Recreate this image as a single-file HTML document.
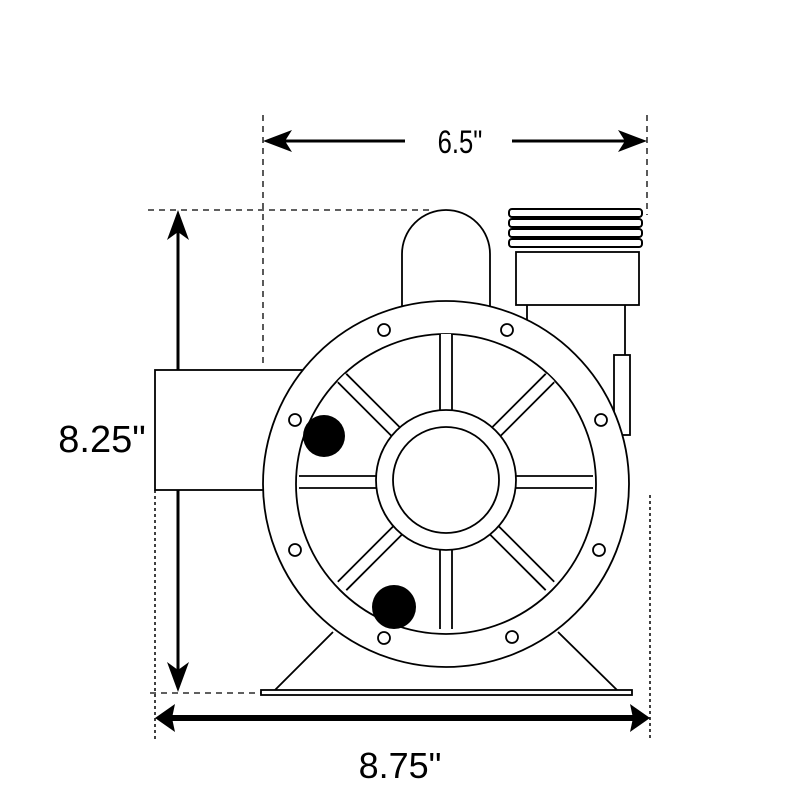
<!DOCTYPE html>
<html><head><style>body{margin:0;background:#fff}</style></head><body>
<svg width="800" height="800" viewBox="0 0 800 800" xmlns="http://www.w3.org/2000/svg">
<rect width="800" height="800" fill="#fff"/>
<g stroke="#000" stroke-width="1.3" stroke-dasharray="6,5" fill="none">
<line x1="263" y1="115" x2="263" y2="365"/>
<line x1="647" y1="115" x2="647" y2="215"/>
<line x1="148" y1="210" x2="430" y2="210"/>
<line x1="150" y1="693" x2="262" y2="693"/>
</g>
<g stroke="#000" stroke-width="1.5" stroke-dasharray="3,3" fill="none">
<line x1="155" y1="490" x2="155" y2="740"/>
<line x1="650" y1="495" x2="650" y2="740"/>
</g>
<g stroke="#000" stroke-width="3" fill="#000">
<line x1="270" y1="141" x2="405" y2="141"/>
<line x1="512" y1="141" x2="640" y2="141"/>
<path d="M263,141 L292,130 L285,141 L292,152z" stroke="none"/>
<path d="M647,141 L618,130 L625,141 L618,152z" stroke="none"/>
<line x1="178" y1="220" x2="178" y2="682"/>
<path d="M178,210 L167,240 L178,232 L189,240z" stroke="none"/>
<path d="M178,692 L167,662 L178,670 L189,662z" stroke="none"/>
<line x1="165" y1="718" x2="640" y2="718" stroke-width="6"/>
<path d="M155,718 L175,704 L172,718 L175,732z" stroke="none"/>
<path d="M650,718 L630,704 L633,718 L630,732z" stroke="none"/>
</g>
<text x="460" y="153" font-family="Liberation Sans Narrow, Liberation Sans, sans-serif" font-size="32" text-anchor="middle" transform="translate(460 0) scale(0.8 1) translate(-460 0)">6.5"</text>
<text x="102" y="452" font-family="Liberation Sans, sans-serif" font-size="38" text-anchor="middle">8.25"</text>
<text x="400" y="778" font-family="Liberation Sans, sans-serif" font-size="36" text-anchor="middle">8.75"</text>
<g stroke="#000" stroke-width="1.8" fill="#fff">
<rect x="155" y="370" width="150" height="120"/>
<path d="M402,310 L402,254 A44,44 0 0 1 490,254 L490,310"/>
<line x1="527" y1="305" x2="527" y2="330"/>
<line x1="625" y1="305" x2="625" y2="400"/>
<rect x="614" y="355" width="16" height="80"/>
<rect x="516" y="252" width="123" height="53"/>
<path d="M275,690 L333,632 M617,690 L558,632" fill="none"/>
<rect x="261" y="690" width="371" height="5"/>
<circle cx="446" cy="484" r="183"/>
<circle cx="446" cy="484" r="150"/>
</g>
<g stroke="#000" stroke-width="2" fill="#fff">
<rect x="509" y="209" width="133" height="8" rx="3"/>
<rect x="509" y="219" width="133" height="8" rx="3"/>
<rect x="509" y="229" width="133" height="8" rx="3"/>
<rect x="509" y="239" width="133" height="8" rx="3"/>
</g>
<g stroke="#000" stroke-width="1.8" fill="none">
<g id="sp">
<rect x="441" y="334" width="10" height="80" fill="#fff" stroke="none"/>
<line x1="440" y1="335" x2="440" y2="414"/>
<line x1="452" y1="335" x2="452" y2="414"/>
</g>
<use href="#sp" transform="rotate(45 446 482)"/>
<use href="#sp" transform="rotate(90 446 482)"/>
<use href="#sp" transform="rotate(135 446 482)"/>
<use href="#sp" transform="rotate(180 446 482)"/>
<use href="#sp" transform="rotate(225 446 482)"/>
<use href="#sp" transform="rotate(270 446 482)"/>
<use href="#sp" transform="rotate(315 446 482)"/>
</g>
<g stroke="#000" stroke-width="1.8" fill="#fff">
<circle cx="446" cy="480" r="70"/>
<circle cx="446" cy="480" r="53"/>
<circle cx="384" cy="330" r="6"/>
<circle cx="507" cy="330" r="6"/>
<circle cx="295" cy="420" r="6"/>
<circle cx="601" cy="420" r="6"/>
<circle cx="295" cy="550" r="6"/>
<circle cx="599" cy="550" r="6"/>
<circle cx="384" cy="638" r="6"/>
<circle cx="512" cy="637" r="6"/>
</g>
<circle cx="324" cy="436" r="21" fill="#000"/>
<circle cx="394" cy="607" r="22" fill="#000"/>
</svg>
</body></html>
